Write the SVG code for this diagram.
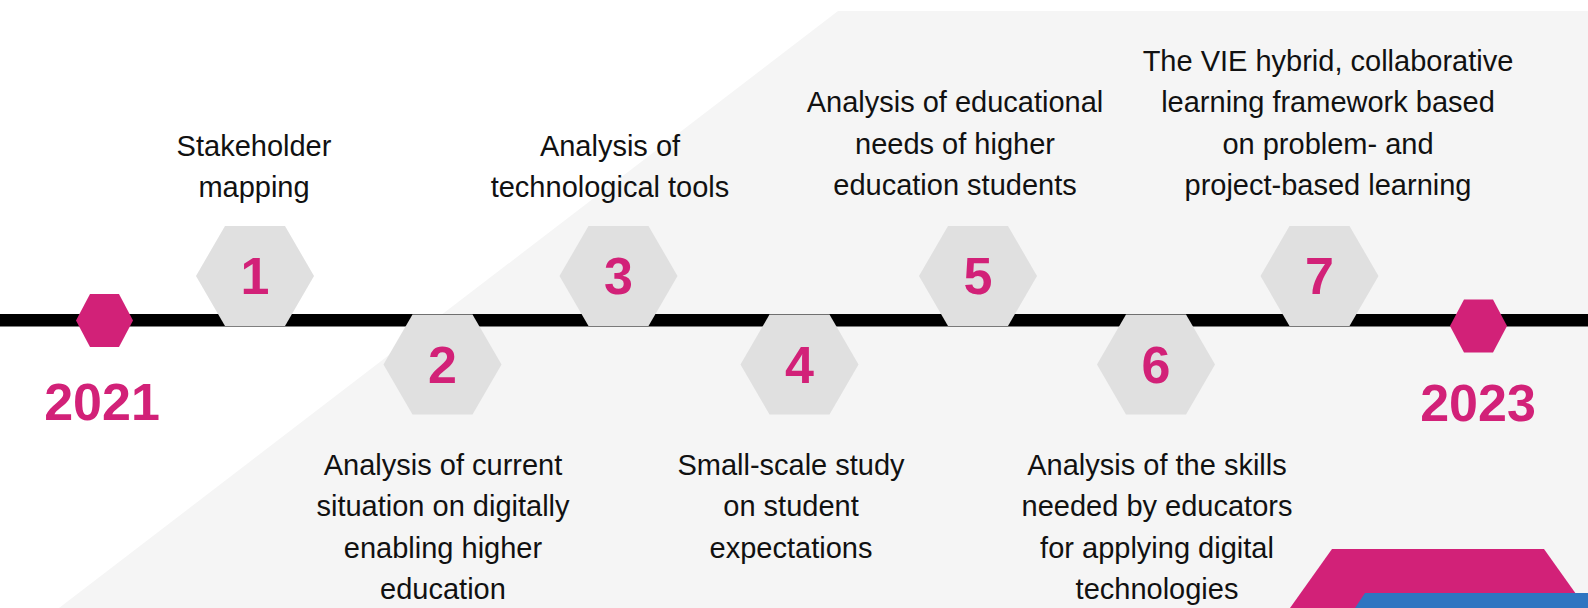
<svg xmlns="http://www.w3.org/2000/svg" xmlns:xlink="http://www.w3.org/1999/xlink" width="1588" height="608" viewBox="0 0 1588 608">
  <style>
    .hex { fill: #E0E0E0; }
    .dot { fill: #D22178; }
    .num { font-family: "Liberation Sans", Arial, sans-serif; font-weight: bold; font-size: 52px; fill: #D22178; text-anchor: middle; }
    .year { font-family: "Liberation Sans", Arial, sans-serif; font-weight: bold; font-size: 52px; fill: #D22178; text-anchor: middle; }
    .lbl { font-family: "Liberation Sans", Arial, sans-serif; font-size: 29px; fill: #111111; text-anchor: middle; }
  </style>
  <defs>
    <polygon id="hx" points="-59,0 -30,-50 30,-50 59,0 30,50 -30,50"/>
    <polygon id="mh" points="-28.5,0 -14.5,-26.5 14.5,-26.5 28.5,0 14.5,26.5 -14.5,26.5"/>
  </defs>

  <rect x="0" y="0" width="1588" height="608" fill="#FFFFFF"/>
  <polygon points="838,11 1588,11 1588,608 59,608" fill="#F5F5F5"/>

  <g id="connectors">
    <rect x="0" y="314" width="1588" height="12.5" fill="#000000"/>
  </g>

  <g id="start-2021">
    <use xlink:href="#mh" href="#mh" class="dot" transform="translate(104.5,320.5)"/>
    <text class="year" x="102" y="420">2021</text>
  </g>

  <g id="step1">
    <use xlink:href="#hx" href="#hx" class="hex" transform="translate(255,276)"/>
    <text class="num" x="255" y="294">1</text>
    <text class="lbl" x="254" y="156">Stakeholder</text>
    <text class="lbl" x="254" y="197">mapping</text>
  </g>

  <g id="step2">
    <use xlink:href="#hx" href="#hx" class="hex" transform="translate(442.5,364.5)"/>
    <text class="num" x="442.5" y="382.5">2</text>
    <text class="lbl" x="443" y="475">Analysis of current</text>
    <text class="lbl" x="443" y="516">situation on digitally</text>
    <text class="lbl" x="443" y="558">enabling higher</text>
    <text class="lbl" x="443" y="599">education</text>
  </g>

  <g id="step3">
    <use xlink:href="#hx" href="#hx" class="hex" transform="translate(618.5,276)"/>
    <text class="num" x="618.5" y="294">3</text>
    <text class="lbl" x="610" y="156">Analysis of</text>
    <text class="lbl" x="610" y="197">technological tools</text>
  </g>

  <g id="step4">
    <use xlink:href="#hx" href="#hx" class="hex" transform="translate(799.5,364.5)"/>
    <text class="num" x="799.5" y="382.5">4</text>
    <text class="lbl" x="791" y="475">Small-scale study</text>
    <text class="lbl" x="791" y="516">on student</text>
    <text class="lbl" x="791" y="558">expectations</text>
  </g>

  <g id="step5">
    <use xlink:href="#hx" href="#hx" class="hex" transform="translate(978,276)"/>
    <text class="num" x="978" y="294">5</text>
    <text class="lbl" x="955" y="112">Analysis of educational</text>
    <text class="lbl" x="955" y="154">needs of higher</text>
    <text class="lbl" x="955" y="195">education students</text>
  </g>

  <g id="step6">
    <use xlink:href="#hx" href="#hx" class="hex" transform="translate(1156,364.5)"/>
    <text class="num" x="1156" y="382.5">6</text>
    <text class="lbl" x="1157" y="475">Analysis of the skills</text>
    <text class="lbl" x="1157" y="516">needed by educators</text>
    <text class="lbl" x="1157" y="558">for applying digital</text>
    <text class="lbl" x="1157" y="599">technologies</text>
  </g>

  <g id="step7">
    <use xlink:href="#hx" href="#hx" class="hex" transform="translate(1319.5,276)"/>
    <text class="num" x="1319.5" y="294">7</text>
    <text class="lbl" x="1328" y="71">The VIE hybrid, collaborative</text>
    <text class="lbl" x="1328" y="112">learning framework based</text>
    <text class="lbl" x="1328" y="154">on problem- and</text>
    <text class="lbl" x="1328" y="195">project-based learning</text>
  </g>

  <g id="end-2023">
    <use xlink:href="#mh" href="#mh" class="dot" transform="translate(1478.5,326)"/>
    <text class="year" x="1478" y="421">2023</text>
  </g>

  <g id="corner-decor">
    <polygon points="1332,549 1544,549 1586,608 1290,608" fill="#D22178"/>
    <polygon points="1365,593 1588,593 1588,608 1355,608" fill="#2E75C1"/>
  </g>
</svg>
